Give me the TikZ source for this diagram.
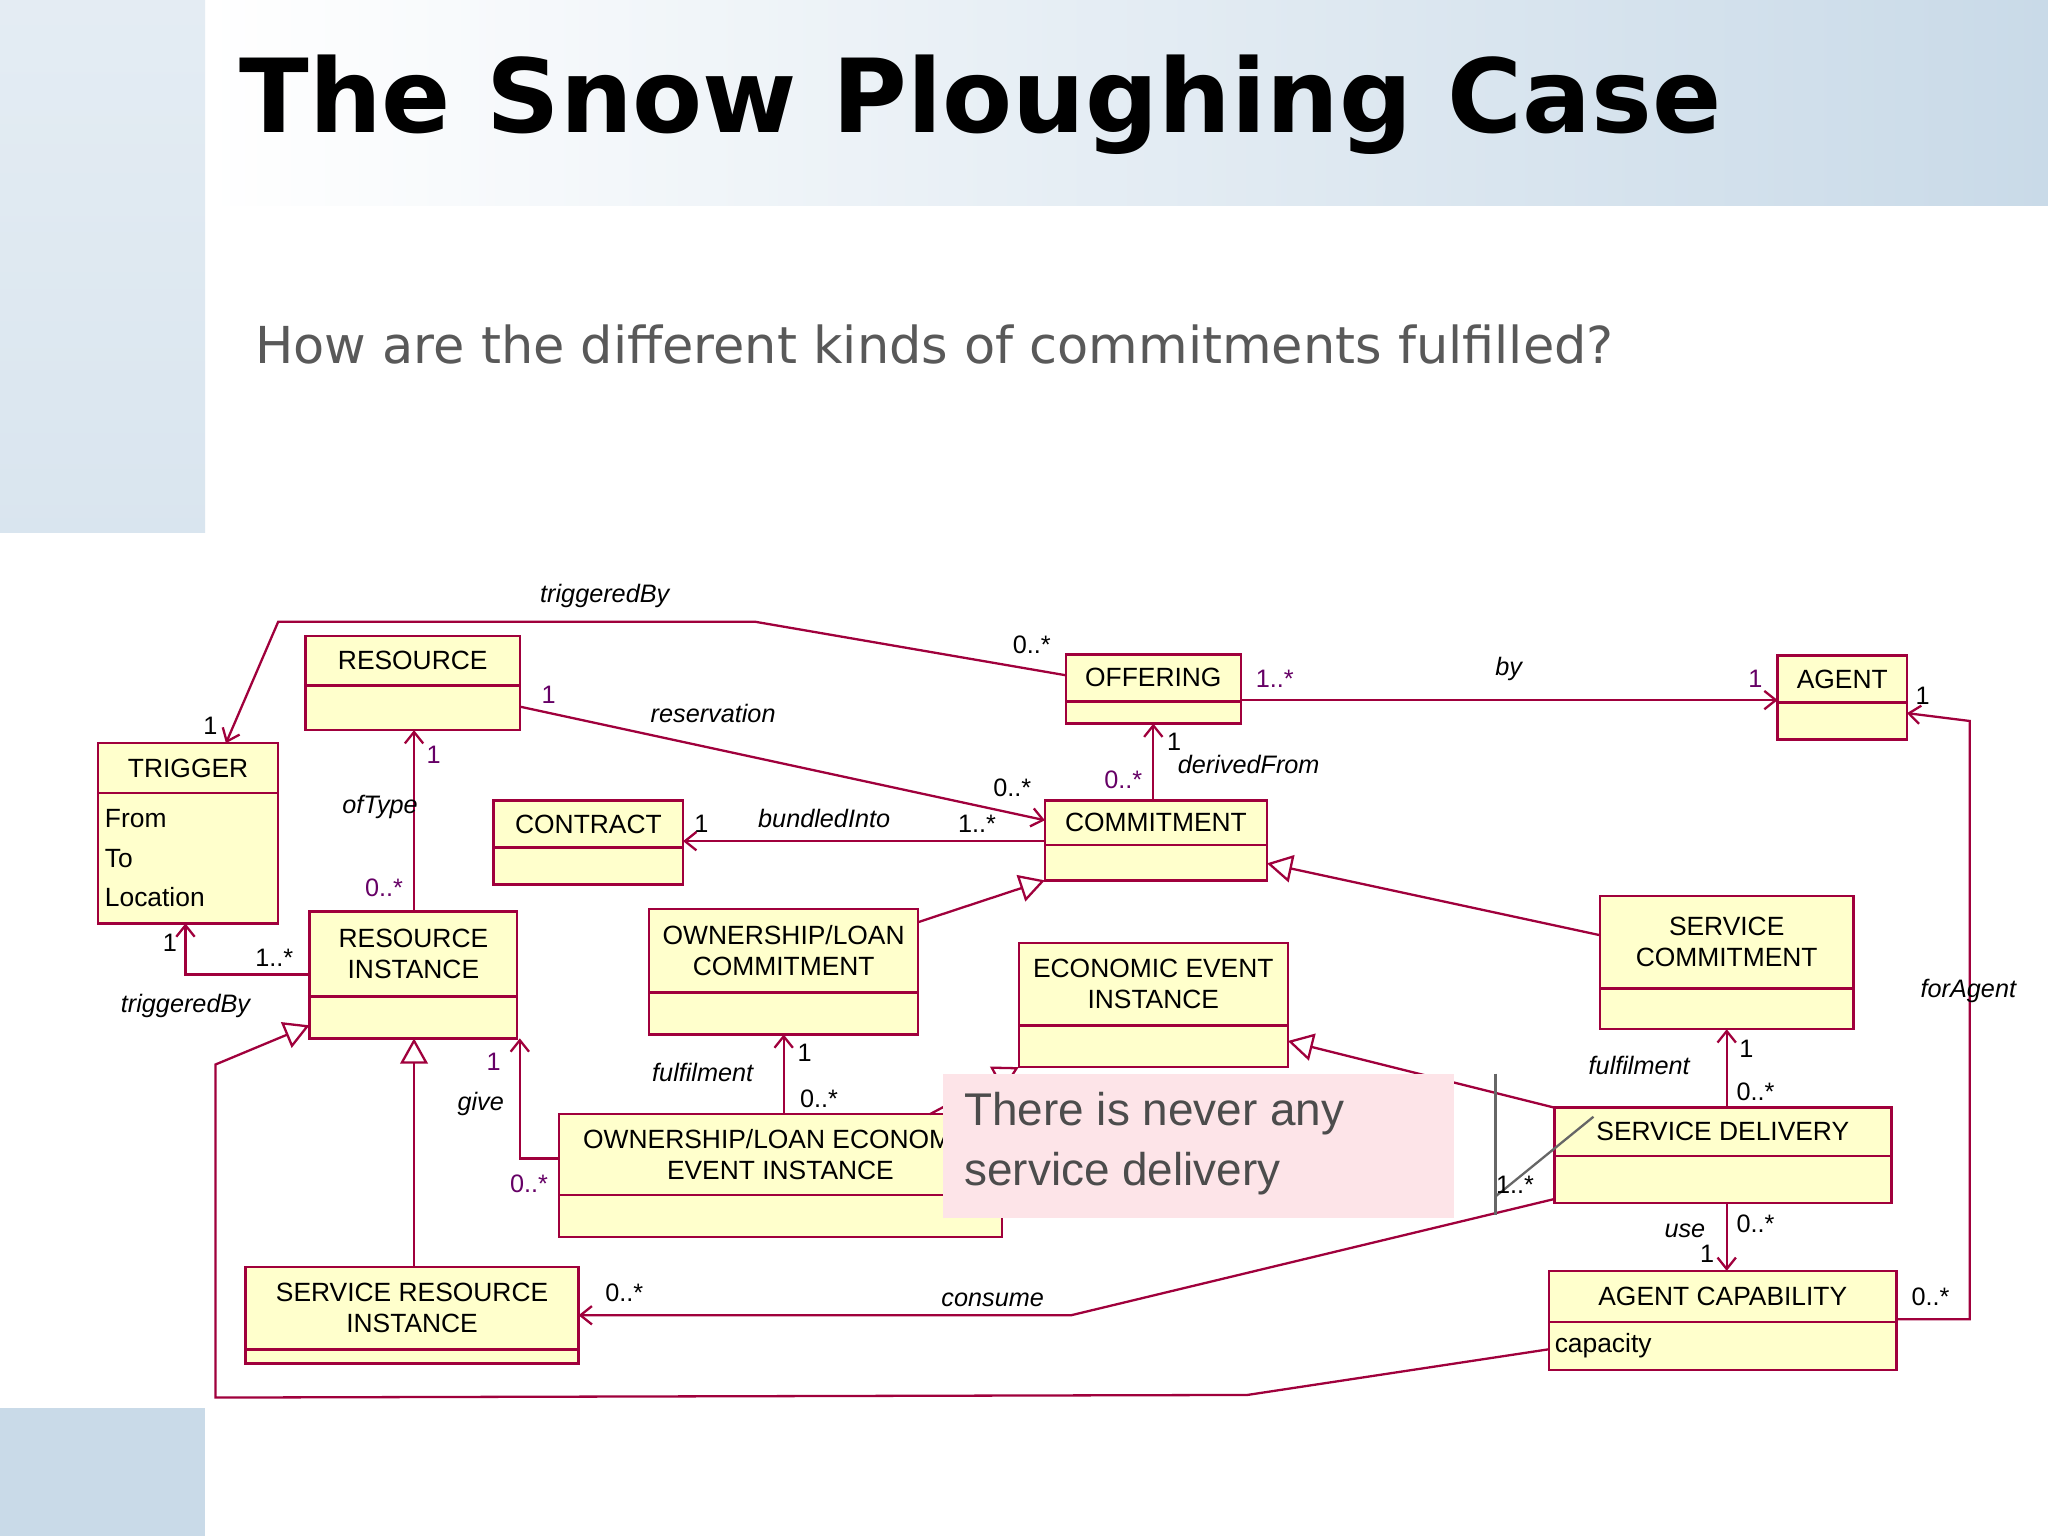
\documentclass[tikz,border=0pt]{standalone}
\usepackage{fontspec}
\setmainfont{Liberation Sans}
\newfontfamily\titlefont{DejaVu Sans}
\usetikzlibrary{arrows.meta,calc}
\definecolor{crim}{HTML}{A0003C}
\definecolor{boxfill}{HTML}{FFFFCC}
\definecolor{purp}{HTML}{660066}
\definecolor{bluebg}{HTML}{C9DAE8}
\definecolor{notepink}{HTML}{FDE4E8}
\tikzset{
  ubox/.style={draw=crim, fill=boxfill, line width=1.1pt, inner sep=0pt, outer sep=0pt},
  uline/.style={draw=crim, line width=1.1pt},
  utitle/.style={font=\fontsize{11.5}{13.5}\selectfont, align=center, inner sep=0pt},
  attr/.style={font=\fontsize{11.5}{13.5}\selectfont, anchor=west, inner sep=0pt},
  assoc/.style={draw=crim, line width=1pt, -{Straight Barb[length=5pt,width=8pt]}},
  gen/.style={draw=crim, line width=1pt, -{Triangle[open,length=11pt,width=12pt,fill=white]}},
  lab/.style={font=\itshape\fontsize{11}{13}\selectfont, inner sep=0pt},
  mult/.style={font=\fontsize{11}{13}\selectfont, inner sep=0pt},
  pmult/.style={mult, text=purp},
  callout/.style={draw=gray!80!black, line width=1pt}
}
\newcommand\ubox[7]{%
  \node[ubox, minimum width={(#4-#2)*0.02cm}, minimum height={(#5-#3)*0.02cm}, anchor=north west] (#1) at (#2,#3) {};
  \draw[uline] (#2,#6) -- (#4,#6);
  \node[utitle] (#1-t) at ({(#2+#4)/2},{(#3+#6)/2}) {#7};}
\begin{document}
\begin{tikzpicture}[x=0.02cm,y=-0.02cm]
\useasboundingbox (0,0) rectangle (1568,1176);
% background
\fill[white] (0,0) rectangle (1568,1176);
\shade[left color=white, right color=bluebg] (157,0) rectangle (1568,157);
\shade[top color=bluebg!50, bottom color=bluebg!70] (0,0) rectangle (157,408);
\fill[bluebg] (0,1078) rectangle (157,1176);
\node[anchor=west, font=\titlefont\bfseries\fontsize{44.5}{52}\selectfont, inner sep=0pt] (title) at (183,80) {The Snow Ploughing Case};
\node[anchor=west, font=\titlefont\fontsize{22.2}{26}\selectfont, text=black!65, inner sep=0pt] (sub) at (195,264) {How are the different kinds of commitments fulfilled?};
% boxes
\ubox{res}{234}{487}{398}{559}{525}{RESOURCE}
\ubox{trig}{75}{569}{213}{707}{607}{TRIGGER}
\node[attr] (trig-a) at (80,627) {From};
\node[attr] (trig-b) at (80,657) {To};
\node[attr] (trig-c) at (80,687) {Location};
\ubox{off}{816}{501}{950}{554}{537}{OFFERING}
\ubox{agent}{1361}{502}{1460}{566}{538}{AGENT}
\ubox{contract}{378}{613}{523}{677}{649}{CONTRACT}
\ubox{commit}{800}{613}{970}{674}{647}{COMMITMENT}
\ubox{resinst}{237}{698}{396}{795}{763}{RESOURCE\\INSTANCE}
\ubox{olc}{497}{696}{703}{792}{760}{OWNERSHIP/LOAN\\COMMITMENT}
\ubox{eei}{780}{722}{986}{817}{785}{ECONOMIC EVENT\\INSTANCE}
\ubox{scom}{1225}{686}{1419}{788}{757}{SERVICE\\COMMITMENT}
\ubox{oleei}{428}{853}{767}{947}{915}{OWNERSHIP/LOAN ECONOMIC\\EVENT INSTANCE}
\ubox{sdel}{1190}{848}{1448}{921}{885}{SERVICE DELIVERY}
\ubox{sri}{188}{970}{443}{1044}{1033}{SERVICE RESOURCE\\INSTANCE}
\ubox{acap}{1186}{973}{1452}{1049}{1012}{AGENT CAPABILITY}
\node[attr] (acap-a) at (1190,1030) {capacity};
% connectors
\draw[assoc] (off.west |- 0,517) -- (578,476) -- (213,476) -- (173,0 |- trig.north);
\draw[assoc] (res.east |- 0,541) -- (commit.west |- 0,628);
\draw[assoc] (off.east |- 0,536) -- (agent.west |- 0,536);
\draw[assoc] (883,0 |- commit.north) -- (883,0 |- off.south);
\draw[assoc] (commit.west |- 0,644) -- (contract.east |- 0,644);
\draw[assoc] (317,0 |- resinst.north) -- (317,0 |- res.south);
\draw[assoc] (resinst.west |- 0,746) -- (142,746) -- (142,0 |- trig.south);
\draw[gen] (olc.east |- 0,706) -- (commit.south west);
\draw[gen] (scom.west |- 0,716) -- (commit.east |- 0,661);
\draw[gen] (317,0 |- sri.north) -- (317,0 |- resinst.south);
\draw[assoc] (600,0 |- oleei.north) -- (600,0 |- olc.south);
\draw[assoc] (oleei.west |- 0,887) -- (398,887) -- (398,0 |- resinst.south);
\draw[gen] (712,0 |- oleei.north) -- (eei.south west);
\draw[gen] (sdel.north west) -- (eei.east |- 0,797);
\draw[assoc] (sdel.west |- 0,918) -- (820,1007) -- (sri.east |- 0,1007);
\draw[assoc] (1322,0 |- sdel.north) -- (1322,0 |- scom.south);
\draw[assoc] (1322,0 |- sdel.south) -- (1322,0 |- acap.north);
\draw[assoc] (acap.east |- 0,1010) -- (1508,1010) -- (1508,552) -- (agent.east |- 0,546);
\draw[gen] (acap.west |- 0,1033) -- (955,1068) -- (165,1070) -- (165,815) -- (resinst.west |- 0,785);
% labels
\node[lab] (l1) at (463,456) {triggeredBy};
\node[mult] (m1) at (790,494) {0..*};
\node[mult] (m2) at (161,556) {1};
\node[pmult] (m3) at (420,532) {1};
\node[lab] (l2) at (546,546) {reservation};
\node[mult] (m4) at (775,603) {0..*};
\node[pmult] (m5) at (976,520) {1..*};
\node[lab] (l3) at (1155,512) {by};
\node[pmult] (m6) at (1344,520) {1};
\node[mult] (m7) at (899,568) {1};
\node[lab] (l4) at (956,585) {derivedFrom};
\node[pmult] (m8) at (860,597) {0..*};
\node[mult] (m9) at (537,631) {1};
\node[lab] (l5) at (631,627) {bundledInto};
\node[mult] (m10) at (748,631) {1..*};
\node[pmult] (m11) at (332,578) {1};
\node[lab] (l6) at (291,618) {ofType};
\node[pmult] (m12) at (294,680) {0..*};
\node[mult] (m13) at (130,722) {1};
\node[mult] (m14) at (210,733) {1..*};
\node[lab] (l7) at (142,770) {triggeredBy};
\node[mult] (m15) at (616,806) {1};
\node[lab] (l8) at (538,821) {fulfilment};
\node[mult] (m16) at (627,841) {0..*};
\node[pmult] (m17) at (378,813) {1};
\node[lab] (l9) at (368,845) {give};
\node[pmult] (m18) at (405,906) {0..*};
\node[mult] (m19) at (1337,803) {1};
\node[lab] (l10) at (1255,816) {fulfilment};
\node[mult] (m20) at (1344,836) {0..*};
\node[mult] (m21) at (1344,937) {0..*};
\node[lab] (l11) at (1290,942) {use};
\node[mult] (m22) at (1307,960) {1};
\node[mult] (m23) at (478,990) {0..*};
\node[lab] (l12) at (760,995) {consume};
\node[mult] (m24) at (1478,993) {0..*};
\node[lab] (l13) at (1507,759) {forAgent};
\node[mult] (m25) at (1472,533) {1};
% note
\node[fill=notepink, minimum width={391*0.02cm}, minimum height={110*0.02cm}, anchor=north west, inner sep=0pt] (note) at (722,822) {};
\node[anchor=north west, align=left, font=\fontsize{20}{26}\selectfont, text=black!70, inner sep=0pt] (notet) at (738,836) {There is never any\\service delivery};
\coordinate (c1) at (1145,822);
\coordinate (c2) at (1145,930);
\coordinate (c3) at (1145,916);
\coordinate (c4) at (1220,855);
\draw[callout] (c1) -- (c2);
\draw[callout] (c3) -- (c4);
\node[mult] (m26) at (1160,907) {1..*};
\end{tikzpicture}
\end{document}
